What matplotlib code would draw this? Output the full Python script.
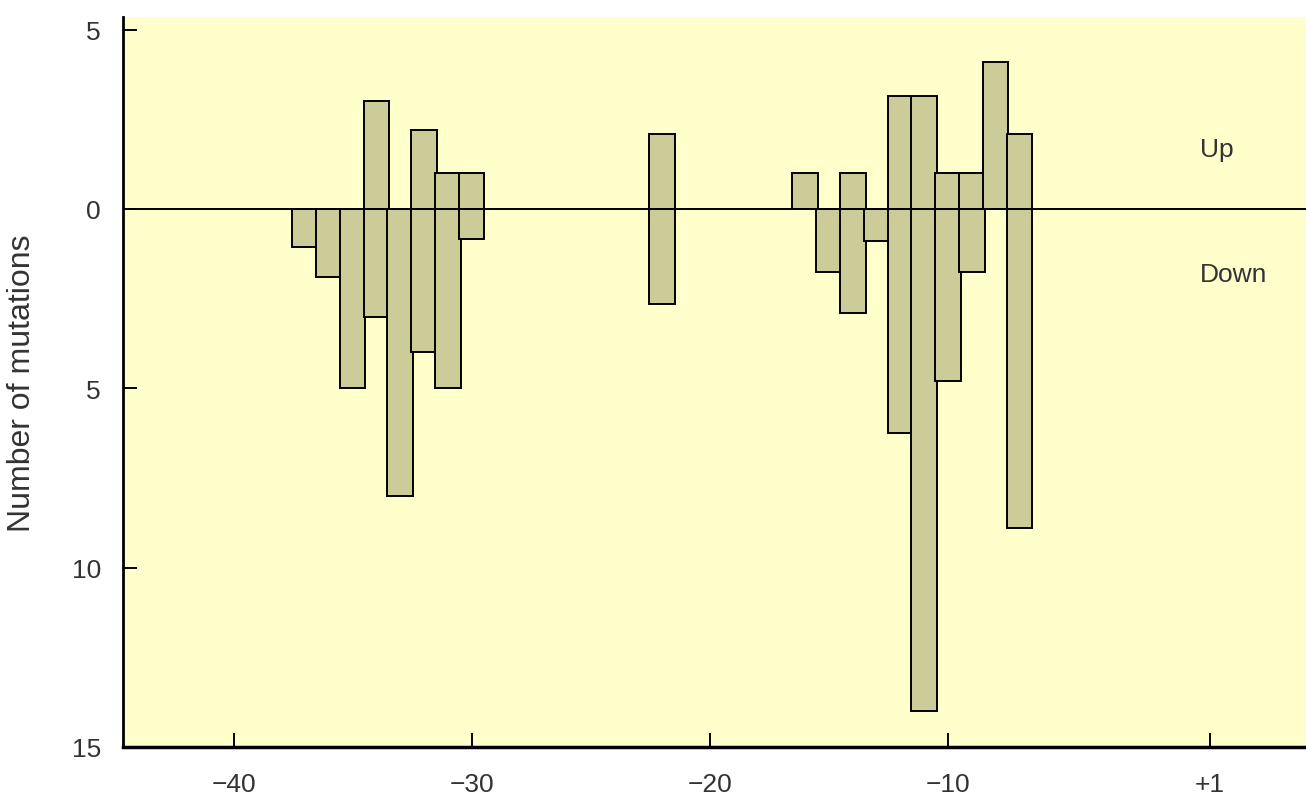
import matplotlib
matplotlib.use("Agg")
import matplotlib.pyplot as plt

# promoter positions (bars) and mutation counts
positions = [-37, -36, -35, -34, -33, -32, -31, -30,
             -22,
             -16, -15, -14, -13, -12, -11, -10, -9, -8, -7]
up_mut = [0, 0, 0, 3, 0, 2.2, 1, 1,
          2.1,
          1, 0, 1, 0, 3.15, 3.15, 1, 1, 4.1, 2.1]
down_mut = [1.05, 1.9, 5, 3, 8, 4, 5, 0.85,
            2.65,
            0, 1.75, 2.9, 0.9, 6.25, 14, 4.8, 1.75, 0, 8.9]

xtick_pos = [-40, -30, -20, -10, 1]
xtick_lab = ["\u221240", "\u221230", "\u221220", "\u221210", "+1"]
ytick_pos = [5, 0, -5, -10, -15]
ytick_lab = ["5", "0", "5", "10", "15"]

plt.rcParams['font.family'] = ['Liberation Sans', 'DejaVu Sans']

bg = '#FFFFCC'
barcol = '#CCCC99'
txtcol = '#333333'

fig = plt.figure(figsize=(13.06, 8.04), dpi=100)
ax = fig.add_axes([123/1306, 56/804, 1 - 123/1306, 730/804])
ax.set_facecolor(bg)

w = 1.07
ax.bar(positions, up_mut, width=w, bottom=0, color=barcol,
       edgecolor='black', linewidth=1.4, zorder=2)
ax.bar(positions, [-d for d in down_mut], width=w, bottom=0, color=barcol,
       edgecolor='black', linewidth=1.4, zorder=2)
ax.axhline(0, color='black', linewidth=1.4, zorder=3)

ax.set_xlim(-44.64, 5.03)
ax.set_ylim(-15, 5.35)

ax.set_xticks(xtick_pos)
ax.set_xticklabels(xtick_lab)
ax.set_yticks(ytick_pos)
ax.set_yticklabels(ytick_lab)
ax.tick_params(axis='both', direction='in', length=10, width=1.4,
               labelsize=19, labelcolor=txtcol)
ax.tick_params(axis='x', pad=18)
ax.tick_params(axis='y', pad=16)

for s in ['top', 'right']:
    ax.spines[s].set_visible(False)
ax.spines['left'].set_linewidth(2)
ax.spines['bottom'].set_linewidth(2.5)

ax.set_ylabel('Number of mutations', fontsize=23, color=txtcol, va='center')
ax.yaxis.set_label_coords(-0.085, 0.5)

ax.text(0.58, 1.67, 'Up', fontsize=19, color=txtcol, va='center', ha='left')
ax.text(0.58, -1.81, 'Down', fontsize=19, color=txtcol, va='center', ha='left')

fig.savefig('out.png', dpi=100, facecolor='white')
